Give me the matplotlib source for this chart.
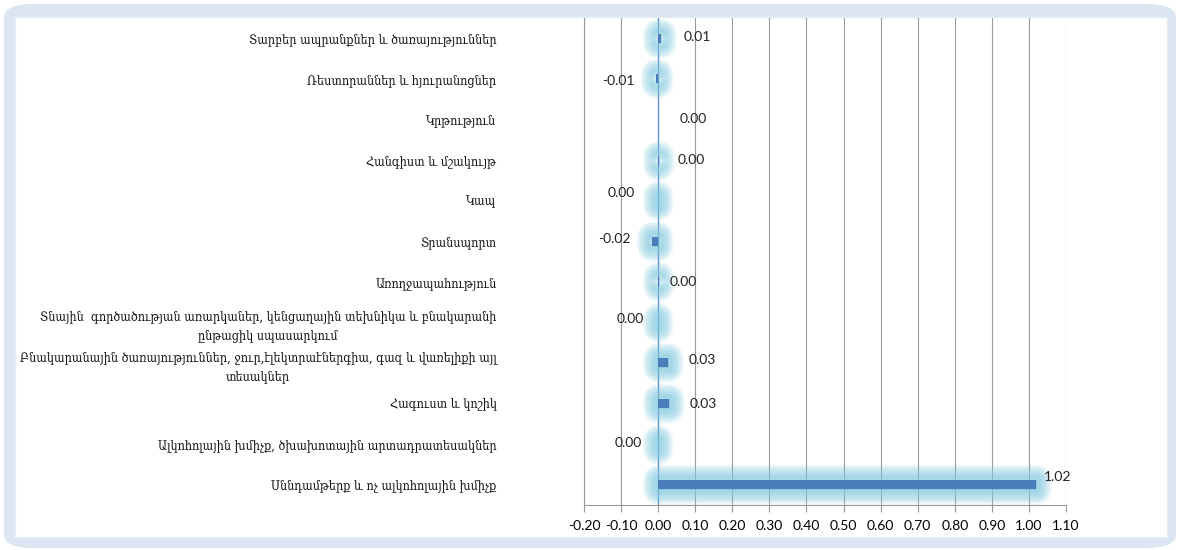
import matplotlib
matplotlib.use("Agg")
import matplotlib.pyplot as plt
import matplotlib.patheffects as pe
from matplotlib.patches import FancyBboxPatch

categories = [
    "Տարբեր ապրանքներ և ծառայություններ",
    "Ռեստորաններ և հյուրանոցներ",
    "Կրթություն",
    "Հանգիստ և մշակույթ",
    "Կապ",
    "Տրանսպորտ",
    "Առողջապահություն",
    "Տնային  գործածության առարկաներ, կենցաղային տեխնիկա և բնակարանի\nընթացիկ սպասարկում",
    "Բնակարանային ծառայություններ, ջուր,էլեկտրաէներգիա, գազ և վառելիքի այլ\nտեսակներ",
    "Հագուստ և կոշիկ",
    "Ալկոհոլային խմիչք, ծխախոտային արտադրատեսակներ",
    "Սննդամթերք և ոչ ալկոհոլային խմիչք",
]
values = [0.008, -0.006, 0.0, 0.003, 0.0, -0.016, 0.002, 0.0, 0.027, 0.030, 0.0, 1.02]
xticks = [-0.2, -0.1, 0.0, 0.1, 0.2, 0.3, 0.4, 0.5, 0.6, 0.7, 0.8, 0.9, 1.0, 1.1]

# label offsets (pixels) from bar end, and which bars get the glow
label_dx = [23, -21, 21, 18, -23, -22, 11, -14, 20, 20, -16, 8]
label_dy = [1, -2, 0, 0, 8, 2, 0, 3, 3, 0, 1, 8]
glow = [True, True, False, True, True, True, True, True, True, True, True, True]

BAR = "#4a7ebb"
GRID = "#9a9a9a"

fig = plt.figure(figsize=(11.8, 5.5), dpi=100)
fig.patch.set_facecolor("white")

W, H = 1180, 550
# outer frame and white panel
fig.patches.append(FancyBboxPatch((4 / W, 2 / H), 1172 / W, 544 / H,
                                  boxstyle="round,pad=0,rounding_size=0.025",
                                  transform=fig.transFigure, facecolor="#dce6f2",
                                  edgecolor="none", zorder=-2))
fig.patches.append(FancyBboxPatch((15 / W, 13 / H), 1152 / W, 520 / H,
                                  boxstyle="square,pad=0",
                                  transform=fig.transFigure, facecolor="white",
                                  edgecolor="#e6edf6", linewidth=1, zorder=-1))

ax = fig.add_axes([584 / W, 45 / H, 482 / W, 487 / H])
ax.set_facecolor("none")

ypos = list(range(len(categories)))
bars = ax.barh(ypos, values, height=0.22, color=BAR, zorder=3)

# soft glow: stacked translucent strokes
glow_fx = [pe.Stroke(linewidth=lw, foreground="#80cadf", alpha=0.12,
                     joinstyle="round", capstyle="round")
           for lw in [22, 20, 18, 16, 14, 12, 10, 8, 6]]
glow_fx.append(pe.Normal())
for b, g in zip(bars, glow):
    if g:
        b.set_path_effects(glow_fx)

for i, v in enumerate(values):
    ha = "left" if label_dx[i] > 0 else "right"
    ax.annotate(f"{v:.2f}", xy=(v, i), xytext=(label_dx[i] * 0.72, label_dy[i] * 0.72),
                textcoords="offset points", ha=ha, va="center",
                fontsize=10, family="Lato", color="#222222", zorder=4)

ax.set_xlim(-0.2, 1.1)
ax.set_ylim(len(categories) - 0.5, -0.5)
ax.set_xticks(xticks)
ax.set_xticklabels([f"{t:.2f}" for t in xticks], family="Lato", fontsize=10)
ax.set_yticks(ypos)
ax.set_yticklabels(categories, family="DejaVu Serif", fontstretch="condensed",
                   fontsize=9, multialignment="center", linespacing=1.55,
                   color="#111111")
ax.tick_params(axis="y", length=0, pad=63)
ax.tick_params(axis="x", direction="out", length=5, color=GRID, width=0.8, pad=6)

ax.grid(axis="x", color=GRID, linewidth=0.8, zorder=0)
ax.axvline(0, color="#5b8fd0", linewidth=0.9, zorder=2)
for s in ["top", "right"]:
    ax.spines[s].set_visible(False)
for s in ["left", "bottom"]:
    ax.spines[s].set_color(GRID)
    ax.spines[s].set_linewidth(0.8)

fig.savefig("out.png", dpi=100)
